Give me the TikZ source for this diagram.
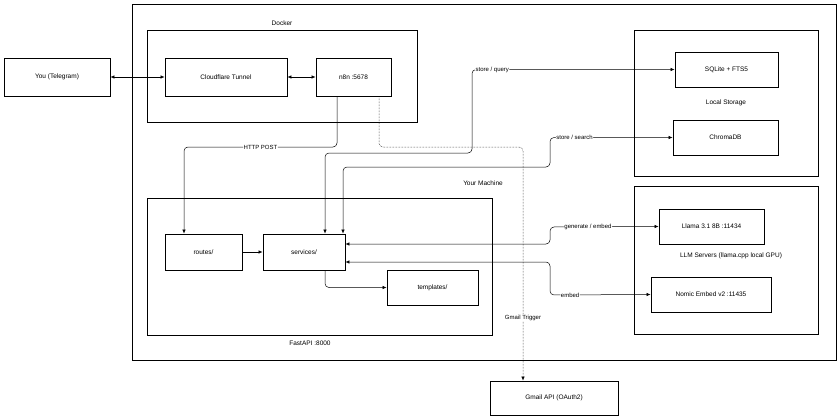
\documentclass[tikz,border=0pt]{standalone}
\usepackage{fontspec}
\setmainfont{Liberation Sans}
\usetikzlibrary{arrows.meta}
\begin{document}
\begin{tikzpicture}[x=1pt,y=-1pt,
  box/.style={draw,line width=0.9pt,font=\fontsize{6.5}{8}\selectfont},
  lbl/.style={font=\fontsize{6.5}{8}\selectfont,inner sep=1pt},
  elbl/.style={font=\fontsize{6}{7}\selectfont,inner sep=0.5pt,fill=white},
  con/.style={line width=0.5pt,-{Latex[length=4pt,width=3.5pt]},rounded corners=4pt},
  bcon/.style={con,{Latex[length=4pt,width=3.5pt]}-{Latex[length=4pt,width=3.5pt]}}]
\useasboundingbox (0,0) rectangle (840,420);
\fill[white] (0,0) rectangle (840,420);
\node[box,minimum width=704pt,minimum height=356pt] (mach) at (484,182) {};
\node[box,minimum width=270pt,minimum height=92pt] (dock) at (282,76) {};
\node[box,minimum width=184pt,minimum height=146pt] (store) at (726,103) {};
\node[box,minimum width=184pt,minimum height=148pt] (llm) at (726,260) {};
\node[box,minimum width=345pt,minimum height=137pt] (fast) at (319.5,266.5) {};
\node[lbl] (machl) at (483,183) {Your Machine};
\node[lbl] (dockl) at (282,23) {Docker};
\node[lbl] (storel) at (726,103) {Local Storage};
\node[lbl] (llml) at (731,256) {LLM Servers (llama.cpp local GPU)};
\node[lbl] (fastl) at (310,343) {FastAPI :8000};
\node[box,minimum width=106pt,minimum height=38pt] (you) at (57,77) {You (Telegram)};
\node[box,minimum width=122pt,minimum height=38pt] (cf) at (226,77) {Cloudflare Tunnel};
\node[box,minimum width=75pt,minimum height=38pt] (n8n) at (353.5,77) {n8n :5678};
\node[box,minimum width=103pt,minimum height=35pt] (sql) at (726.5,69.5) {SQLite + FTS5};
\node[box,minimum width=105pt,minimum height=35pt] (chroma) at (725.5,137.5) {ChromaDB};
\node[box,minimum width=105pt,minimum height=35pt] (llama) at (711.5,226.5) {Llama 3.1 8B :11434};
\node[box,minimum width=120pt,minimum height=35pt] (nomic) at (711,294.5) {Nomic Embed v2 :11435};
\node[box,minimum width=77pt,minimum height=36pt] (routes) at (203.5,252) {routes/};
\node[box,minimum width=82pt,minimum height=36pt] (serv) at (304,252) {services/};
\node[box,minimum width=91pt,minimum height=35pt] (tmpl) at (432.5,287.5) {templates/};
\node[box,minimum width=128pt,minimum height=34pt] (gmail) at (554,398) {Gmail API (OAuth2)};
\draw[bcon] (you) -- (cf);
\draw[bcon] (cf) -- (n8n);
\draw[con] (n8n.south -| 337,0) |- (184,147) node[elbl,pos=0.75] {HTTP POST} -- (routes.north -| 184,0);
\draw[con,densely dotted] (n8n.south -| 379,0) |- (523,147) -- (gmail.north -| 523,0) node[elbl,pos=0.73] {Gmail Trigger};
\draw[con] (routes) -- (serv);
\draw[con] (serv.south -| 325,0) |- (tmpl.west);
\draw[bcon] (serv.north -| 325,0) |- (472,153) |- (sql.west) node[elbl,pos=0.55] {store / query};
\draw[bcon] (serv.north -| 343,0) |- (550,167) |- (chroma.west) node[elbl,pos=0.6] {store / search};
\draw[bcon] (serv.east |- 0,244) -| (550,227) -- (llama.west) node[elbl,pos=0.35] {generate / embed};
\draw[bcon] (serv.east |- 0,262) -| (550,295) -- (nomic.west) node[elbl,pos=0.2] {embed};
\end{tikzpicture}
\end{document}
